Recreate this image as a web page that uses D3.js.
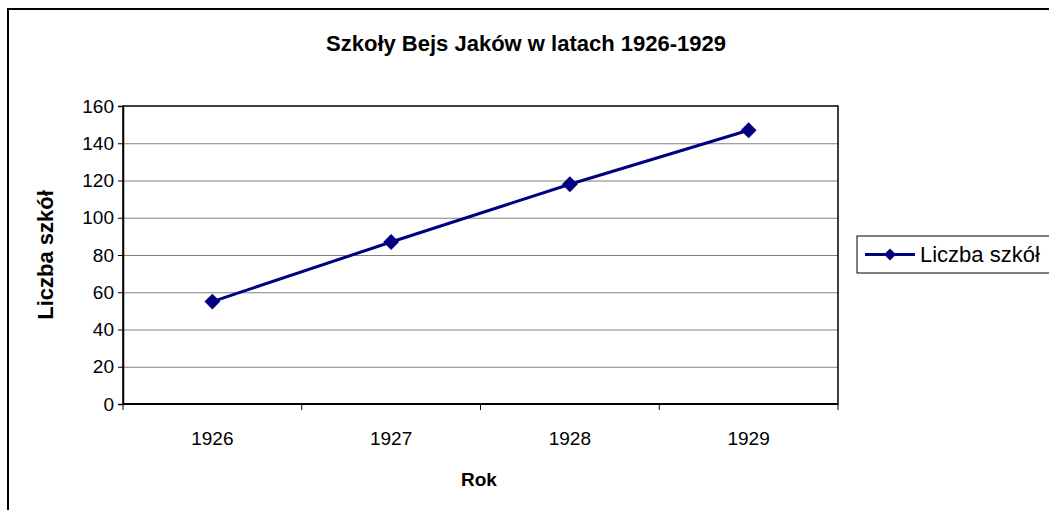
<!DOCTYPE html>
<html>
<head>
<meta charset="utf-8">
<script src="https://cdn.jsdelivr.net/npm/d3@7"></script>
<style>
  body { margin: 0; background: #fff; }
  svg { display: block; }
</style>
</head>
<body>
<svg id="chart"></svg>
<script>
// data
const years = ["1926", "1927", "1928", "1929"];
const schools = [55, 87, 118, 147];
const yTicks = [0, 20, 40, 60, 80, 100, 120, 140, 160];
const seriesName = "Liczba szkół";

var width = 1049,
  height = 510;

var plot = { left: 123, right: 838, top: 106, bottom: 404 };
const lineCol = "#000080";
const font = "'Liberation Sans', Arial, sans-serif";

var svg = d3.select("#chart").attr("width", width).attr("height", height);

svg.append("rect").attr("width", width).attr("height", height).attr("fill", "#fff");

// outer frame (runs off the right and bottom)
svg
  .append("rect")
  .attr("x", 8)
  .attr("y", 9)
  .attr("width", 1100)
  .attr("height", 600)
  .attr("fill", "none")
  .attr("stroke", "#000")
  .attr("stroke-width", 2);

var xScale = d3.scaleBand().domain(years).range([plot.left, plot.right]);
var yScale = d3.scaleLinear().domain([0, 160]).range([plot.bottom, plot.top]);

// gridlines
svg
  .append("g")
  .selectAll("line")
  .data(yTicks.filter((d) => d > 0 && d < 160))
  .enter()
  .append("line")
  .attr("x1", plot.left)
  .attr("x2", plot.right)
  .attr("y1", (d) => yScale(d) + 0.5)
  .attr("y2", (d) => yScale(d) + 0.5)
  .attr("stroke", "#808080")
  .attr("stroke-width", 1);

// plot border
svg
  .append("rect")
  .attr("x", plot.left)
  .attr("y", plot.top)
  .attr("width", plot.right - plot.left)
  .attr("height", plot.bottom - plot.top)
  .attr("fill", "none")
  .attr("stroke", "#000")
  .attr("stroke-width", 1.5);

// y axis
var yAxis = svg
  .append("g")
  .attr("transform", `translate(${plot.left},0)`)
  .call(d3.axisLeft(yScale).tickValues(yTicks).tickSize(5).tickPadding(4));
yAxis.select(".domain").attr("stroke-width", 1.5);
yAxis.selectAll("text").attr("font-family", font).attr("font-size", "19px").attr("fill", "#000");

// x axis: ticks at category boundaries
var xAxisG = svg.append("g").attr("transform", `translate(0,${plot.bottom})`);
xAxisG
  .append("line")
  .attr("x1", plot.left)
  .attr("x2", plot.right)
  .attr("stroke", "#000")
  .attr("stroke-width", 2);
var bounds = years.map((d) => xScale(d)).concat([plot.right]);
xAxisG
  .selectAll(".tk")
  .data(bounds)
  .enter()
  .append("line")
  .attr("x1", (d) => d)
  .attr("x2", (d) => d)
  .attr("y1", 0)
  .attr("y2", 6)
  .attr("stroke", "#000");
xAxisG
  .selectAll(".lbl")
  .data(years)
  .enter()
  .append("text")
  .attr("x", (d) => xScale(d) + xScale.bandwidth() / 2)
  .attr("y", 41)
  .attr("text-anchor", "middle")
  .attr("font-family", font)
  .attr("font-size", "19px")
  .text((d) => d);

// series line
var line = d3
  .line()
  .x((d, i) => xScale(years[i]) + xScale.bandwidth() / 2)
  .y((d) => yScale(d));

svg
  .append("path")
  .datum(schools)
  .attr("d", line)
  .attr("fill", "none")
  .attr("stroke", lineCol)
  .attr("stroke-width", 3);

var diamond = d3.symbol().type(d3.symbolDiamond2).size(160);
svg
  .append("g")
  .selectAll("path")
  .data(schools)
  .enter()
  .append("path")
  .attr("d", diamond)
  .attr("transform", (d, i) => `translate(${xScale(years[i]) + xScale.bandwidth() / 2},${yScale(d)})`)
  .attr("fill", lineCol);

// titles
svg
  .append("text")
  .attr("x", 526)
  .attr("y", 51)
  .attr("text-anchor", "middle")
  .attr("font-family", font)
  .attr("font-size", "22px")
  .attr("font-weight", "bold")
  .text("Szkoły Bejs Jaków w latach 1926-1929");

svg
  .append("text")
  .attr("transform", "translate(53,255) rotate(-90)")
  .attr("text-anchor", "middle")
  .attr("font-family", font)
  .attr("font-size", "22px")
  .attr("font-weight", "bold")
  .text(seriesName);

svg
  .append("text")
  .attr("x", 479)
  .attr("y", 486)
  .attr("text-anchor", "middle")
  .attr("font-family", font)
  .attr("font-size", "19px")
  .attr("font-weight", "bold")
  .text("Rok");

// legend
var leg = svg.append("g").attr("transform", "translate(857,236)");
leg
  .append("rect")
  .attr("width", 250)
  .attr("height", 37)
  .attr("fill", "#fff")
  .attr("stroke", "#000")
  .attr("stroke-width", 1);
leg
  .append("line")
  .attr("x1", 8)
  .attr("x2", 58)
  .attr("y1", 18.5)
  .attr("y2", 18.5)
  .attr("stroke", lineCol)
  .attr("stroke-width", 3);
leg
  .append("path")
  .attr("d", d3.symbol().type(d3.symbolDiamond2).size(90))
  .attr("transform", "translate(33,18.5)")
  .attr("fill", lineCol);
leg
  .append("text")
  .attr("x", 63)
  .attr("y", 26)
  .attr("font-family", font)
  .attr("font-size", "22px")
  .text(seriesName);
</script>
</body>
</html>
